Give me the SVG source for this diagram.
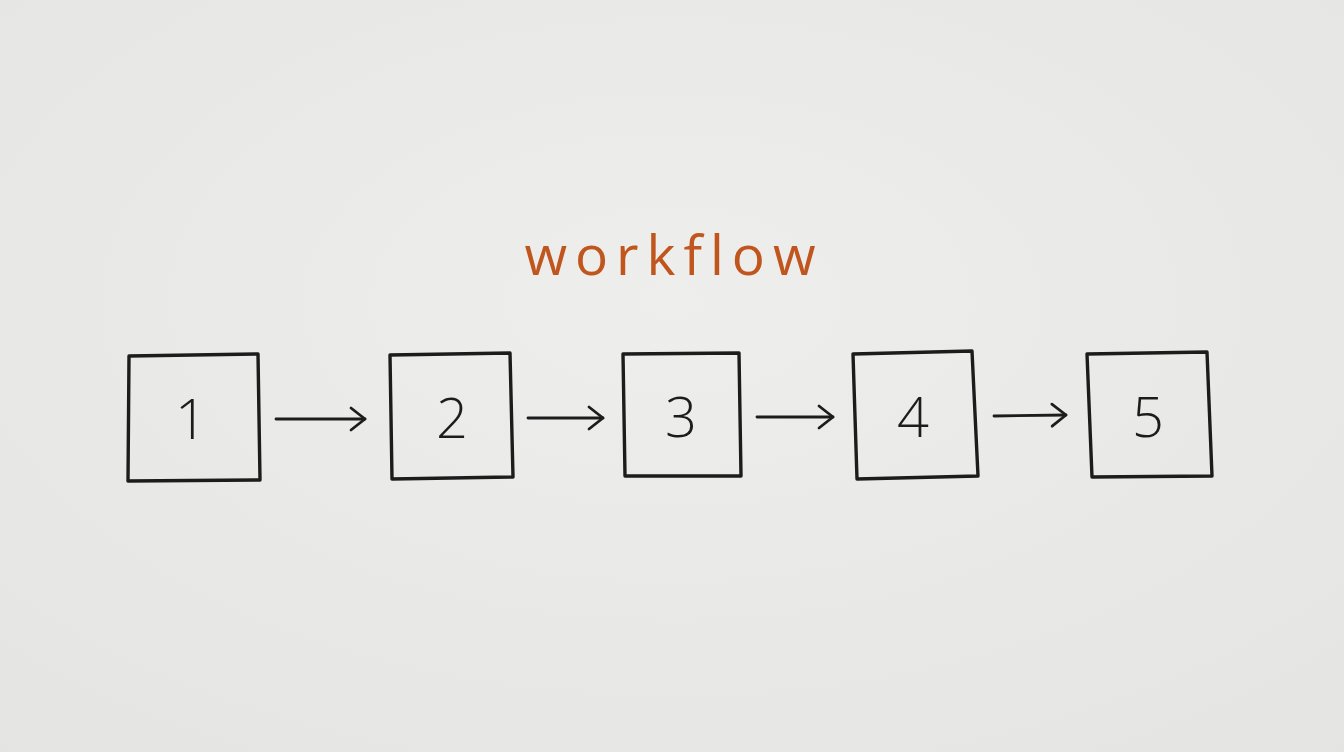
<svg xmlns="http://www.w3.org/2000/svg" width="1344" height="752" viewBox="0 0 1344 752">
<defs>
<radialGradient id="paper" cx="50%" cy="40%" r="80%">
<stop offset="0" stop-color="#eeeeed"/>
<stop offset="1" stop-color="#e4e4e2"/>
</radialGradient>
<marker id="arr" viewBox="0 0 24 28" refX="21" refY="14" markerWidth="24" markerHeight="28" markerUnits="userSpaceOnUse" orient="auto">
<path d="M7 3 L21 14 L7 25" fill="none" stroke="#1c1c1c" stroke-width="2.8" stroke-linecap="round" stroke-linejoin="round"/>
</marker>
</defs>
<style>
.box{fill:none;stroke:#1c1c1c;stroke-width:3.4;stroke-linejoin:round;stroke-linecap:round}
.num{font-family:"Open Sans","Liberation Sans","DejaVu Sans",sans-serif;font-weight:300;font-size:56px;fill:#1c1c1c;text-anchor:middle}
.conn{fill:none;stroke:#1c1c1c;stroke-width:2.8;stroke-linecap:round}
.title{font-family:"Open Sans","Liberation Sans","DejaVu Sans",sans-serif;font-weight:400;font-size:55px;fill:#c0561e;text-anchor:middle;letter-spacing:8px}
</style>
<rect width="1344" height="752" fill="url(#paper)"/>
<text class="title" x="674" y="275">workflow</text>
<g id="n1"><path class="box" d="M129 356 L258 354 L260 480 L128 481 Z"/><text class="num" x="191" y="439">1</text></g>
<g id="n2"><path class="box" d="M390 355 L510 353 L513 477 L392 479 Z"/><text class="num" x="452" y="438">2</text></g>
<g id="n3"><path class="box" d="M623 354 L739 353 L741 476 L625 476 Z"/><text class="num" x="681" y="437">3</text></g>
<g id="n4"><path class="box" d="M853 354 L972 351 L978 476 L857 479 Z"/><text class="num" x="913" y="437">4</text></g>
<g id="n5"><path class="box" d="M1087 354 L1207 352 L1212 476 L1092 477 Z"/><text class="num" x="1148" y="437">5</text></g>
<g id="connectors">
<path class="conn" d="M276 419 L365 419" marker-end="url(#arr)"/>
<path class="conn" d="M528 418 L603 418" marker-end="url(#arr)"/>
<path class="conn" d="M757 417 L833 417" marker-end="url(#arr)"/>
<path class="conn" d="M994 416 L1066 415" marker-end="url(#arr)"/>
</g>
</svg>
